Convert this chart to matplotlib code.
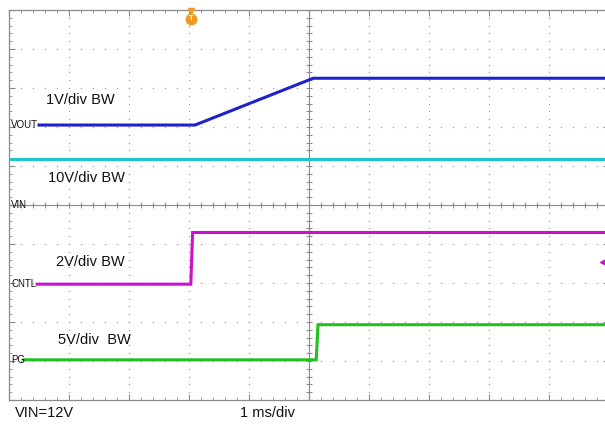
import numpy as np
import matplotlib.pyplot as plt

plt.rcParams['font.family'] = ['Liberation Sans', 'DejaVu Sans']

# Zeit in ms (1 ms/div), Spannungen in V
vout_t = [0.5, 3.1, 5.07, 10.0]
vout_v = [0.0, 0.0, 1.2, 1.2]
vin_t = [0.0, 10.0]
vin_v = [11.9, 11.9]
cntl_t = [0.47, 3.03, 3.06, 10.0]
cntl_v = [0.0, 0.0, 2.65, 2.65]
pg_t = [0.25, 5.12, 5.15, 10.0]
pg_v = [0.0, 0.0, 4.5, 4.5]

# Kanal: (Name, Offset in div, V/div, Farbe)
channels = [
    ('VOUT', 7.05, 1.0, '#1e22cc', vout_t, vout_v),
    ('VIN', 5.0, 10.0, '#1cc4cc', vin_t, vin_v),
    ('CNTL', 2.97, 2.0, '#cc10cc', cntl_t, cntl_v),
    ('PG', 1.03, 5.0, '#22c01c', pg_t, pg_v),
]
scale_labels = ['1V/div BW', '10V/div BW', '2V/div BW', '5V/div  BW']
scale_pos = [(0.62, 7.68), (0.65, 5.68), (0.78, 3.55), (0.82, 1.53)]

fig = plt.figure(figsize=(6.05, 4.24), dpi=100)
ax = fig.add_axes([9 / 605, 24 / 424, 600 / 605, 390 / 424])
ax.set_xlim(0, 10)
ax.set_ylim(0, 10)

grid_col = '#a0a0a0'
for s in ax.spines.values():
    s.set_color('#8a8a8a')
    s.set_linewidth(0.9)
ax.set_xticks(np.arange(0, 10.01, 1))
ax.set_yticks(np.arange(0, 10.01, 1))
ax.set_xticks(np.arange(0, 10.01, 0.2), minor=True)
ax.set_yticks(np.arange(0, 10.01, 0.2), minor=True)
ax.tick_params(which='both', direction='in', top=True, right=True,
               labelbottom=False, labelleft=False, color='#8a8a8a')
ax.tick_params(which='major', length=4)
ax.tick_params(which='minor', length=2.5)

# gepunktetes Raster
dots = np.arange(0, 10.01, 0.2)
for k in range(1, 10):
    if k == 5:
        continue
    ax.scatter(np.full_like(dots, k), dots, s=1.0, color=grid_col, lw=0, zorder=1)
    ax.scatter(dots, np.full_like(dots, k), s=1.0, color=grid_col, lw=0, zorder=1)

# Mittelkreuz
ax.axvline(5, color='#8a8a8a', lw=0.8, zorder=1)
ax.axhline(5, color='#8a8a8a', lw=0.8, zorder=1)
ax.plot(np.full_like(dots, 5), dots, ls='none', marker='_', ms=5, mew=0.8, color='#8a8a8a', zorder=1)
ax.plot(dots, np.full_like(dots, 5), ls='none', marker='|', ms=5, mew=0.8, color='#8a8a8a', zorder=1)

for name, off, vdiv, col, t, v in channels:
    y = off + np.array(v) / vdiv
    ax.plot(t, y, color=col, lw=2.2, zorder=3, solid_joinstyle='miter')
    ax.text(0.04, off, name, fontsize=7, va='center', ha='left', color='#111111', zorder=4)

for lab, (x, y) in zip(scale_labels, scale_pos):
    ax.text(x, y, lab, fontsize=10.5, va='center', ha='left', color='#111111')

# Triggermarke und CNTL-Pegel
ax.plot([3.03], [9.78], marker='o', ms=7.5, color='#f09a20', clip_on=False, zorder=5)
ax.plot([3.03], [9.97], marker='v', ms=4, color='#f09a20', clip_on=False, zorder=5)
ax.text(3.03, 9.77, 'T', fontsize=5.5, color='white', ha='center', va='center', zorder=6, fontweight='bold')
ax.plot([9.9], [3.54], marker='<', ms=5, color='#cc10cc', clip_on=False, zorder=5)

fig.text(15 / 605, 1 - 413 / 424, 'VIN=12V', fontsize=10.5, va='center', ha='left', color='#111111')
fig.text(240 / 605, 1 - 413 / 424, '1 ms/div', fontsize=10.5, va='center', ha='left', color='#111111')

fig.savefig('out.png', dpi=100)
